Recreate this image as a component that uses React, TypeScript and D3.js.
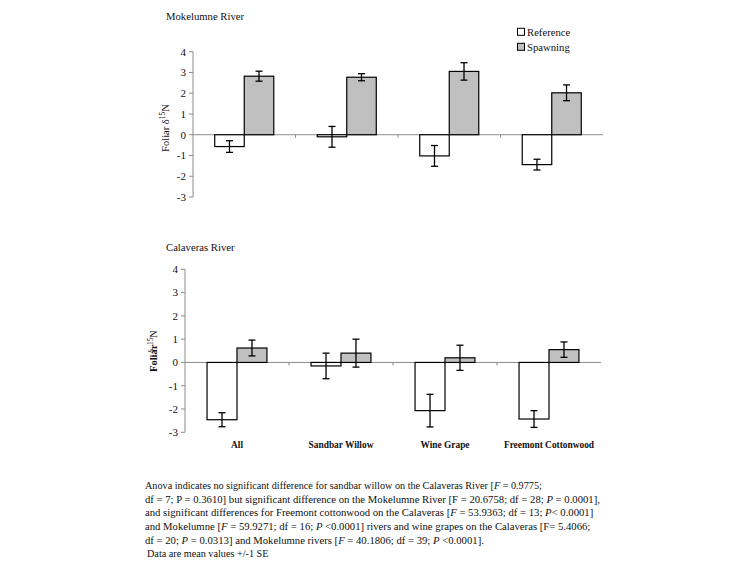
import React from "react";
import * as d3 from "d3";

const categories = ["All", "Sandbar Willow", "Wine Grape", "Freemont Cottonwood"];
const seriesNames = ["Reference", "Spawning"];
const yTicks = [-3, -2, -1, 0, 1, 2, 3, 4];

const mokReference = [-0.57, -0.1, -1.02, -1.44];
const mokReferenceSE = [0.28, 0.5, 0.5, 0.26];
const mokSpawning = [2.82, 2.77, 3.05, 2.02];
const mokSpawningSE = [0.24, 0.17, 0.42, 0.38];

const calReference = [-2.46, -0.15, -2.07, -2.43];
const calReferenceSE = [0.3, 0.55, 0.7, 0.36];
const calSpawning = [0.62, 0.4, 0.2, 0.55];
const calSpawningSE = [0.34, 0.6, 0.54, 0.33];

const FONT = "'Liberation Serif', 'Times New Roman', serif";
const fills = ["#ffffff", "#c0c0c0"];
const axisColor = "#8c8c8c";

type PanelProps = {
  title: string;
  titleY: number;
  x0: number;
  x1: number;
  yTop: number;
  yBottom: number;
  values: number[][];
  errors: number[][];
  showCats: boolean;
  garbledLabel: boolean;
  labelX: number;
  labelY: number;
};

function Panel(p: PanelProps) {
  const x = d3.scaleBand<string>().domain(categories).range([p.x0, p.x1]).padding(0);
  const inner = d3
    .scaleBand<string>()
    .domain(seriesNames)
    .range([0, x.bandwidth()])
    .paddingInner(0)
    .paddingOuter(0.736);
  const y = d3.scaleLinear().domain([-3, 4]).range([p.yBottom, p.yTop]);
  const bw = inner.bandwidth();
  const y0 = y(0);
  return (
    <g>
      <text x={166} y={p.titleY} fontFamily={FONT} fontSize={10.7} fill="#111">
        {p.title}
      </text>
      <line x1={p.x0} x2={p.x0} y1={p.yTop} y2={p.yBottom} stroke={axisColor} strokeWidth={1} />
      {yTicks.map((t) => (
        <g key={t}>
          <line x1={p.x0 - 4} x2={p.x0} y1={y(t)} y2={y(t)} stroke={axisColor} />
          <text
            x={p.x0 - 7}
            y={y(t)}
            dy="0.35em"
            textAnchor="end"
            fontFamily={FONT}
            fontSize={11}
            fill="#111"
          >
            {t}
          </text>
        </g>
      ))}
      <line x1={p.x0} x2={p.x1} y1={y0} y2={y0} stroke={axisColor} strokeWidth={1} />
      {categories.slice(1).map((c) => (
        <line key={c} x1={x(c)!} x2={x(c)!} y1={y0} y2={y0 + 3} stroke={axisColor} />
      ))}
      {categories.map((c, i) =>
        seriesNames.map((s, j) => {
          const v = p.values[j][i];
          const bx = x(c)! + inner(s)!;
          const top = Math.min(y(v), y0);
          const h = Math.abs(y(v) - y0);
          const cx = bx + bw / 2;
          const e = p.errors[j][i];
          return (
            <g key={c + s}>
              <rect x={bx} y={top} width={bw} height={h} fill={fills[j]} stroke="#000" strokeWidth={1.2} />
              <line x1={cx} x2={cx} y1={y(v + e)} y2={y(v - e)} stroke="#000" strokeWidth={1.3} />
              <line x1={cx - 3.5} x2={cx + 3.5} y1={y(v + e)} y2={y(v + e)} stroke="#000" strokeWidth={1.3} />
              <line x1={cx - 3.5} x2={cx + 3.5} y1={y(v - e)} y2={y(v - e)} stroke="#000" strokeWidth={1.3} />
            </g>
          );
        })
      )}
      {p.showCats &&
        categories.map((c) => (
          <text
            key={c}
            x={x(c)! + x.bandwidth() / 2}
            y={448}
            textAnchor="middle"
            fontFamily={FONT}
            fontWeight="bold"
            fontSize={9.4}
            fill="#111"
          >
            {c}
          </text>
        ))}
      {!p.garbledLabel ? (
        <text
          transform={`translate(${p.labelX},${p.labelY}) rotate(-90)`}
          textAnchor="middle"
          fontFamily={FONT}
          fontSize={10.5}
          fill="#111"
        >
          Foliar δ<tspan dy="-4.5" fontSize={7.5}>15</tspan>
          <tspan dy="4.5">N</tspan>
        </text>
      ) : (
        <g transform={`translate(${p.labelX},${p.labelY}) rotate(-90)`} fontFamily={FONT} fill="#111">
          <text x={0} y={0} fontSize={10.5} fontWeight="bold">Foliar</text>
          <text x={19} y={-3} fontSize={8.5}>δ</text>
          <text x={27} y={-4} fontSize={7.5}>15</text>
          <text x={34} y={0} fontSize={10.5}>N</text>
        </g>
      )}
    </g>
  );
}

export default function App() {
  const lines: React.ReactNode[] = [
    <>Anova indicates no significant difference for sandbar willow on the Calaveras River [<tspan fontStyle="italic">F</tspan> = 0.9775;</>,
    <>df = 7; P = 0.3610] but significant difference on the Mokelumne River [F = 20.6758; df = 28; <tspan fontStyle="italic">P</tspan> = 0.0001],</>,
    <>and significant differences for Freemont cottonwood on the Calaveras [<tspan fontStyle="italic">F</tspan> = 53.9363; df = 13; <tspan fontStyle="italic">P</tspan>{"< 0.0001]"}</>,
    <>and Mokelumne [<tspan fontStyle="italic">F</tspan> = 59.9271; df = 16; <tspan fontStyle="italic">P</tspan> {"<0.0001] rivers and wine grapes on the Calaveras [F= 5.4066;"}</>,
    <>df = 20; <tspan fontStyle="italic">P</tspan> = 0.0313] and Mokelumne rivers [<tspan fontStyle="italic">F</tspan> = 40.1806; df = 39; <tspan fontStyle="italic">P</tspan> {"<0.0001]."}</>,
    <>Data are mean values +/-1 SE</>,
  ];
  const lineY = [488.5, 502.5, 516.2, 530, 543.7, 557];
  const lineX = [145, 145, 145, 145, 145, 147];
  const lineSize = [10.2, 10.7, 10.7, 10.7, 10.7, 10.2];
  return (
    <svg
      width={750}
      height={563}
      style={{ position: "absolute", left: 0, top: 0, background: "#fff" }}
    >
      <rect x={0} y={0} width={750} height={563} fill="#fff" />
      <Panel
        title="Mokelumne River"
        titleY={20}
        x0={193}
        x1={603}
        yTop={51.7}
        yBottom={197}
        values={[mokReference, mokSpawning]}
        errors={[mokReferenceSE, mokSpawningSE]}
        showCats={false}
        garbledLabel={false}
        labelX={169}
        labelY={128}
      />
      <Panel
        title="Calaveras River"
        titleY={251}
        x0={185}
        x1={601}
        yTop={269.3}
        yBottom={432.3}
        values={[calReference, calSpawning]}
        errors={[calReferenceSE, calSpawningSE]}
        showCats={true}
        garbledLabel={true}
        labelX={157}
        labelY={372}
      />
      {seriesNames.map((s, j) => (
        <g key={s}>
          <rect x={517.5} y={28.3 + j * 15} width={7} height={7} fill={fills[j]} stroke="#000" strokeWidth={1} />
          <text x={527} y={35.5 + j * 15} fontFamily={FONT} fontSize={10.7} fill="#111">
            {s}
          </text>
        </g>
      ))}
      {lines.map((l, i) => (
        <text key={i} x={lineX[i]} y={lineY[i]} fontFamily={FONT} fontSize={lineSize[i]} fill="#111">
          {l}
        </text>
      ))}
    </svg>
  );
}
